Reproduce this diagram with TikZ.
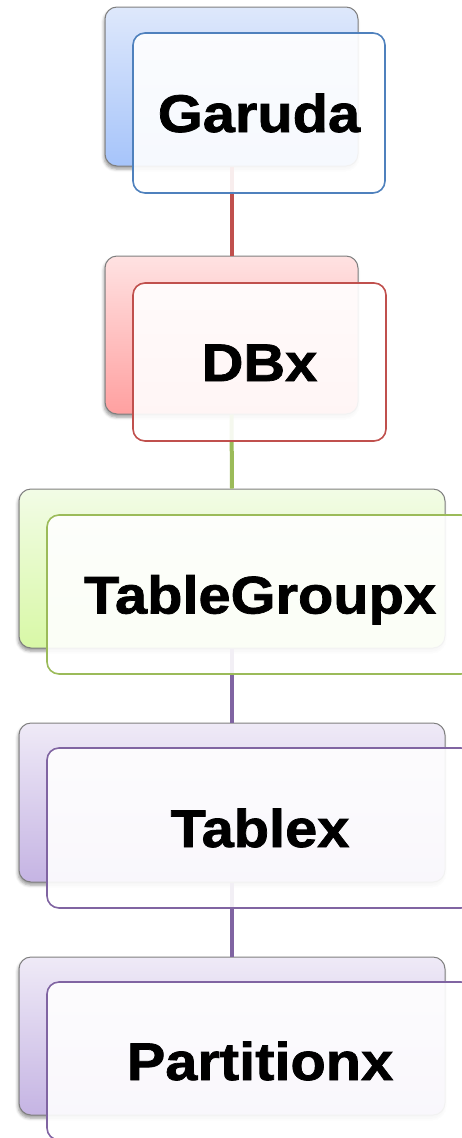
\documentclass[tikz,border=0pt]{standalone}
\usepackage{fontspec}
\newfontfamily\lblfont[FakeStretch=1.09,FakeBold=1.4]{Liberation Sans}
\usetikzlibrary{shadows.blur}

% fills of the back cards (top and bottom of the gradient) and accent colours
\definecolor{blueTop}{HTML}{DEE8FB}
\definecolor{blueBot}{HTML}{A6C4FA}
\definecolor{blueAcc}{HTML}{4F81BD}
\definecolor{redTop}{HTML}{FFE2E2}
\definecolor{redBot}{HTML}{FFA0A0}
\definecolor{redAcc}{HTML}{C0504D}
\definecolor{greenTop}{HTML}{F2FCE6}
\definecolor{greenBot}{HTML}{D8F8A6}
\definecolor{greenAcc}{HTML}{9BBB59}
\definecolor{purpleTop}{HTML}{EFEAF7}
\definecolor{purpleBot}{HTML}{C5B4E3}
\definecolor{purpleAcc}{HTML}{8064A2}
\definecolor{backEdge}{HTML}{7F7F7F}

\begin{document}
\begin{tikzpicture}[x=1pt,y=-1pt,
  backbox/.style 2 args={rectangle, rounded corners=12pt, draw=backEdge,
    line width=1pt, inner sep=0pt, top color=#1, bottom color=#2,
    blur shadow={shadow xshift=-1pt, shadow yshift=-3pt,
      shadow blur radius=3pt, shadow opacity=40}},
  frontbox/.style={rectangle, rounded corners=12pt, draw=#1, line width=1.6pt,
    fill=white, fill opacity=0.9, text opacity=1, inner sep=0pt,
    font=\lblfont\bfseries\fontsize{53}{60}\selectfont,
    text height=38pt, text depth=0pt},
  link/.style={line width=4pt, draw=#1}]
\useasboundingbox (0,0) rectangle (462,1138);
\clip (0,0) rectangle (462,1138);

% back cards
\node[backbox={blueTop}{blueBot}, minimum width=253pt, minimum height=159pt]
  (b1) at (231.5,86.5) {};
\node[backbox={redTop}{redBot}, minimum width=253pt, minimum height=158pt]
  (b2) at (231.5,335) {};
\node[backbox={greenTop}{greenBot}, minimum width=426pt, minimum height=159pt]
  (b3) at (232,568.5) {};
\node[backbox={purpleTop}{purpleBot}, minimum width=426pt, minimum height=159pt]
  (b4) at (232,802.5) {};
\node[backbox={purpleTop}{purpleBot}, minimum width=426pt, minimum height=158pt]
  (b5) at (232,1036) {};

% connectors between the levels
\draw[link=redAcc] (b1.south) -- (b2.north);
\draw[link=greenAcc] (b2.south) -- (b3.north);
\draw[link=purpleAcc] (b3.south) -- (b4.north);
\draw[link=purpleAcc] (b4.south) -- (b5.north);

% front cards with the labels
\node[frontbox=blueAcc, minimum width=252pt, minimum height=160pt]
  (f1) at (259,113) {Garuda};
\node[frontbox=redAcc, minimum width=253pt, minimum height=158pt]
  (f2) at (259.5,362) {DBx};
\node[frontbox=greenAcc, minimum width=426pt, minimum height=159pt]
  (f3) at (260,594.5) {TableGroupx};
\node[frontbox=purpleAcc, minimum width=426pt, minimum height=160pt]
  (f4) at (260,828) {Tablex};
\node[frontbox=purpleAcc, minimum width=426pt, minimum height=158pt]
  (f5) at (260,1061) {Partitionx};
\end{tikzpicture}
\end{document}
